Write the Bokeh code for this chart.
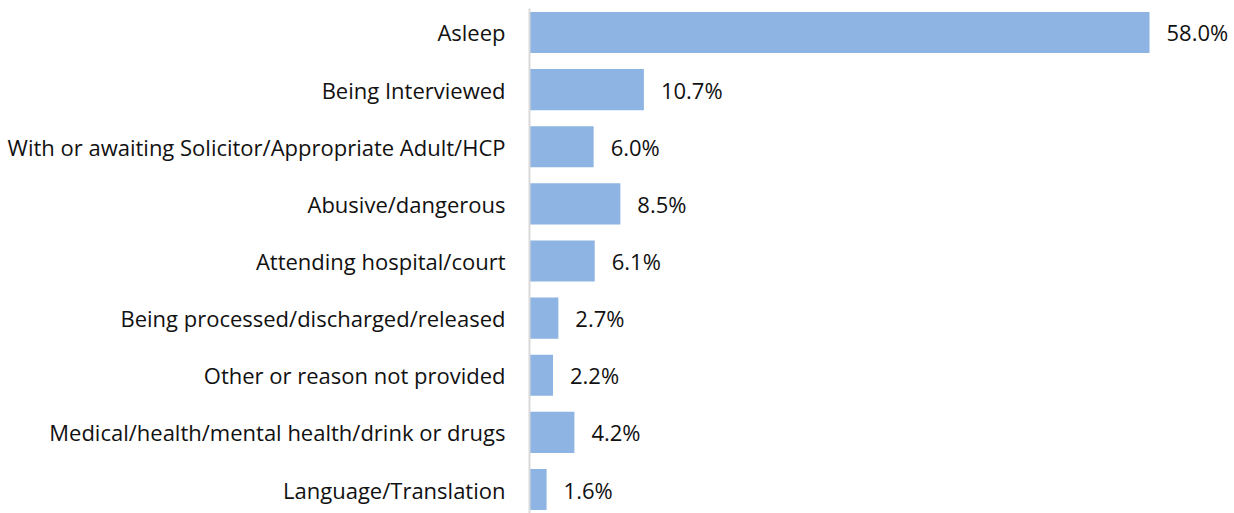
from bokeh.plotting import figure
from bokeh.models import ColumnDataSource, Range1d, FactorRange, LabelSet
from bokeh.core.properties import value
from bokeh.embed import file_html
from bokeh.resources import INLINE

categories = ["Asleep", "Being Interviewed",
              "With or awaiting Solicitor/Appropriate Adult/HCP",
              "Abusive/dangerous", "Attending hospital/court",
              "Being processed/discharged/released",
              "Other or reason not provided",
              "Medical/health/mental health/drink or drugs",
              "Language/Translation"]
values = [58.0, 10.7, 6.0, 8.5, 6.1, 2.7, 2.2, 4.2, 1.6]
labels = [f"{v:.1f}%" for v in values]

FONT = "Open Sans"
src = ColumnDataSource(dict(cat=categories, val=values, lab=labels))

p = figure(width=1234, height=513, output_backend="svg", toolbar_location=None,
           y_range=FactorRange(factors=list(reversed(categories)), range_padding=-0.0178),
           x_range=Range1d(0, 65.95),
           min_border_left=529, min_border_right=0, min_border_top=8, min_border_bottom=0)
p.hbar(y="cat", right="val", height=0.72, source=src, color="#8DB4E2", line_color=None)
p.add_layout(LabelSet(x="val", y="cat", text="lab", source=src, x_offset=17, y_offset=0,
                      text_baseline="middle", text_font=value(FONT), text_font_size="22px",
                      text_color="#111111"))
p.xaxis.visible = False
p.xgrid.visible = False
p.ygrid.visible = False
p.outline_line_color = None
ya = p.yaxis[0]
ya.axis_line_color = "#D9D9D9"
ya.axis_line_width = 2
ya.major_tick_line_color = None
ya.minor_tick_line_color = None
ya.major_label_standoff = 18
ya.major_label_text_font = FONT
ya.major_label_text_font_size = "22px"
ya.major_label_text_color = "#111111"

open("out.html", "w").write(file_html(p, INLINE))
